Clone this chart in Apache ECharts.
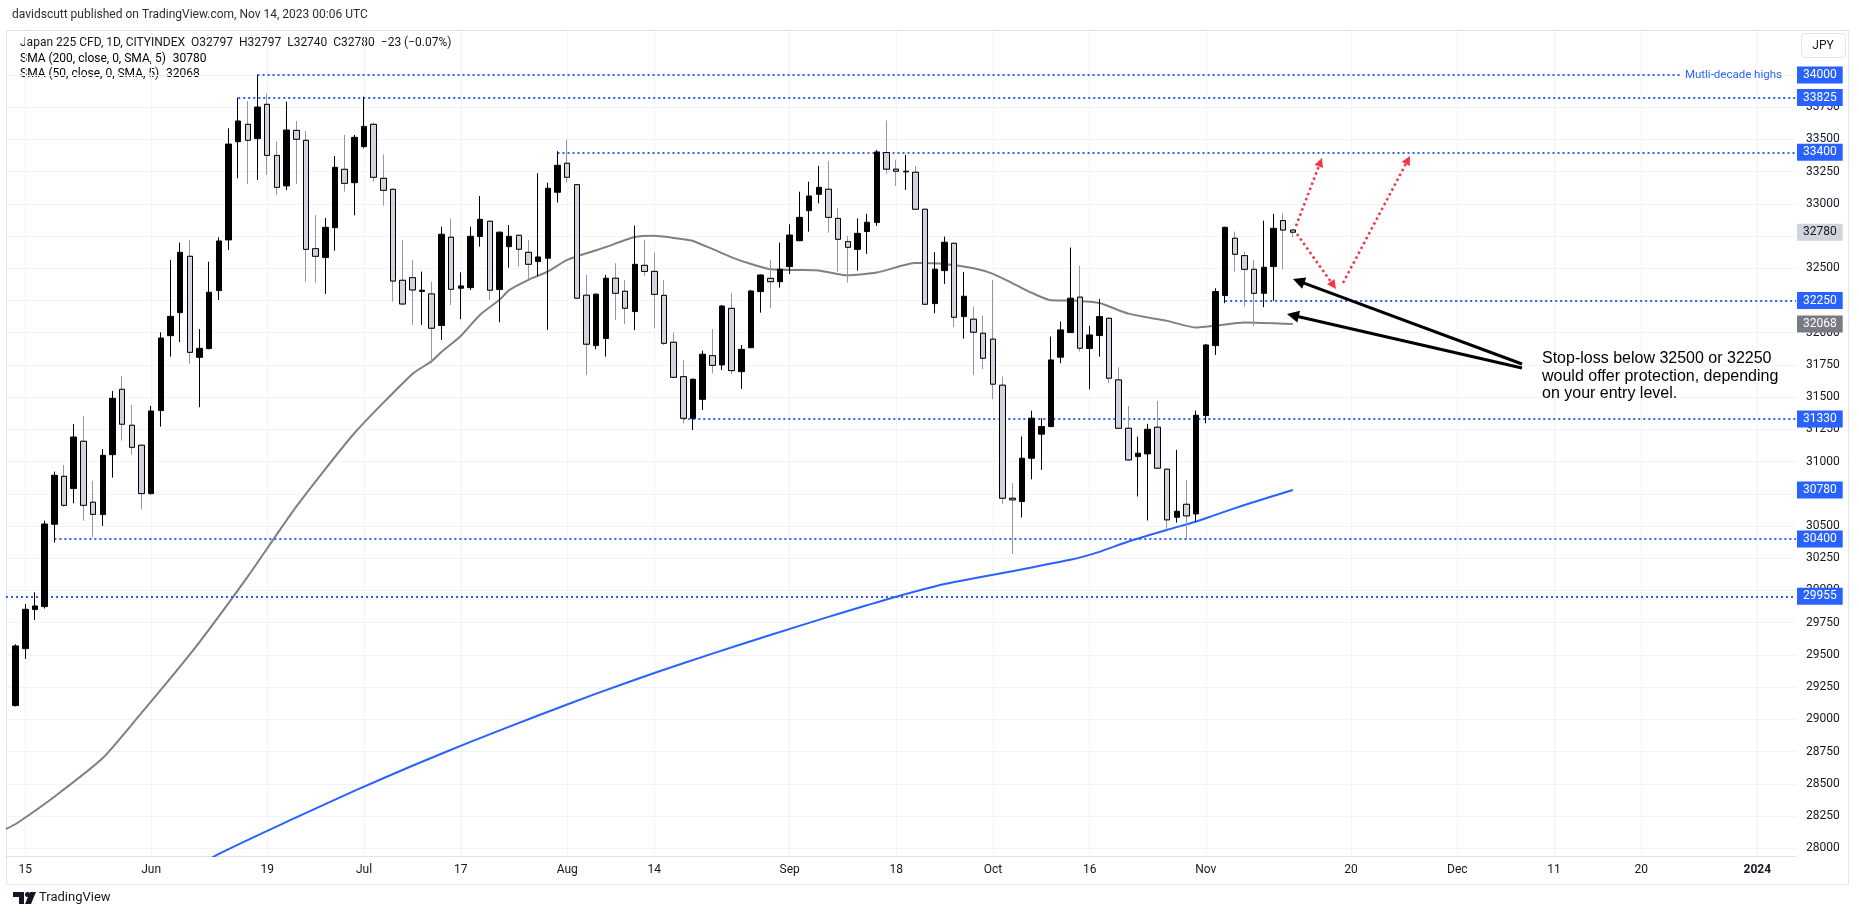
<!DOCTYPE html>
<html>
<head>
<meta charset="utf-8">
<script src="https://cdn.jsdelivr.net/npm/echarts@6/dist/echarts.min.js"></script>
<style>html,body{margin:0;padding:0;background:#fff;}#c{width:1859px;height:921px;}</style>
</head>
<body>
<div id="c"></div>
<script>
// ---------------- DATA ----------------
const opens = [29107,29549,29852,29875,30514,30886,30791,31158,30685,30589,
31054,31561,31282,31127,30752,31396,31977,32156,32593,31809,
31877,32327,32720,33482,33617,33506,33772,33376,33139,33570,
33493,32652,32583,32815,33268,33164,33444,33617,33198,33113,
32407,32427,32320,32301,32056,32741,32345,32350,32746,32865,
32335,32668,32756,32624,32552,32578,33090,33315,33149,32291,
31900,31955,32423,32322,32164,32523,32476,32290,31926,31659,
31336,31483,31822,31750,32189,31698,31884,32319,32422,32396,
32513,32714,32947,33074,33113,32887,32707,32647,32785,32855,
33398,33269,33248,33245,32958,32226,32482,32694,32125,32105,
31996,31950,31593,30716,30690,31026,31213,31272,31810,32001,
32276,31877,31978,32112,31634,31259,31039,31060,31267,30941,
30568,30669,30594,31357,31900,32288,32733,32598,32492,32306,
32513,32870,32797];
const closes = [29570,29854,29880,30516,30894,30661,31191,30661,30591,31049,
31491,31290,31111,30752,31393,31959,32127,32624,31848,31879,
32314,32712,33464,33643,33493,33751,33376,33128,33573,33501,
32647,32593,32818,33283,33159,33516,33601,33206,33105,32401,
32223,32332,32330,32035,32764,32337,32363,32748,32880,32330,
32780,32748,32648,32531,32588,33121,33299,33206,32268,31911,
32299,32423,32306,32190,32531,32476,32298,31918,31654,31336,
31639,31833,31747,32207,31706,31871,32324,32448,32396,32492,
32758,32895,33061,33128,32895,32725,32663,32771,32857,33403,
33269,33253,33253,32958,32221,32493,32702,32120,32283,32004,
31802,31601,30716,30703,31026,31337,31272,31789,32022,32268,
31880,31983,32125,31647,31259,31013,31065,31251,30949,30548,
30615,30579,31360,31905,32319,32818,32609,32492,32306,32508,
32810,32797,32780];
const lows = [29100,29469,29772,29860,30372,30650,30677,30542,30413,30501,
30876,31163,31054,30630,30745,31272,31815,31928,31758,31422,
31871,32254,32642,33198,33154,33185,33224,33069,33107,33154,
32396,32389,32301,32637,33095,32911,33431,33172,32986,32241,
32215,32060,32061,31763,31944,32216,32105,32332,32668,32254,
32081,32505,32513,32415,32436,32022,33010,33165,32260,31673,
31872,31815,32099,32068,32021,32440,32034,31905,31650,31297,
31245,31401,31685,31711,31680,31564,31880,32156,32189,32350,
32456,32710,32784,33004,32776,32474,32388,32482,32612,32829,
33232,33139,33108,32955,32215,32151,32379,32043,31955,31673,
31717,31484,30672,30284,30566,30863,30936,31267,31763,31998,
31854,31561,31815,31608,31255,31010,30729,30543,30945,30475,
30527,30393,30535,31298,31828,32229,32474,32203,32053,32198,
32247,32492,32740];
const highs = [29583,29896,29986,30542,30922,30974,31292,31354,30850,31098,
31548,31665,31440,31135,31432,32003,32565,32699,32720,32029,
32551,32740,33586,33824,33798,34000,33857,33482,33793,33643,
33565,32913,32890,33371,33534,33534,33832,33630,33384,33120,
32720,32564,32474,32397,32823,32886,32469,32823,33061,32870,
32785,32836,32760,32720,33237,33165,33408,33496,33155,32449,
32305,32449,32539,32410,32831,32720,32621,32409,32001,31788,
31645,31861,32029,32215,32306,31905,32332,32452,32564,32699,
32841,33094,33172,33294,33332,32965,32750,32887,32922,33419,
33646,33341,33380,33294,32962,32625,32746,32698,32472,32203,
32131,32410,31660,30833,31195,31394,31337,31970,32087,32661,
32521,32053,32262,32115,31732,31432,31194,31293,31471,30945,
31091,30858,31396,31913,32345,32822,32785,32629,32565,32870,
32922,32927,32797];

// SMA readings (category index -> value)
const sma50Bars = [0,1,5,10,14,17,20,25,30,36,42,44,45,47,49,51,52,54,56,58,61,62,65,67,70,71,73,75,77,79,82,84,87,90,94,97,100,102,104,106,108,110,113,116,120,123,125,128,133];
const sma50Vals = [28150,28188,28400,28700,29050,29320,29600,30110,30650,31220,31680,31780,31850,31975,32140,32255,32330,32410,32475,32565,32640,32665,32742,32753,32725,32712,32650,32585,32533,32492,32487,32483,32445,32467,32540,32533,32500,32457,32385,32310,32252,32250,32230,32148,32092,32040,32055,32080,32068];
const sma200Bars = [15,22,30,36,42,48,55,61,67,73,79,85,91,97,104,110,113,116,120,123,125,128,133];
const sma200Vals = [27650,27956,28240,28445,28640,28825,29030,29200,29360,29510,29655,29795,29930,30050,30150,30238,30300,30380,30470,30535,30587,30663,30780];

// horizontal levels
const levelValues = [34000, 33825, 33400, 32250, 31330, 30400, 29955];
const levelStartBars = [26, 24, 57, 126, 70, 5, 0];

// x tick labels
const tickDates = ['2023-05-15','2023-06-01','2023-06-19','2023-07-03','2023-07-17','2023-08-01','2023-08-14','2023-09-01','2023-09-18','2023-10-02','2023-10-16','2023-11-01','2023-11-20','2023-12-01','2023-12-11','2023-12-20','2024-01-01'];
const tickLabels = ['15','Jun','19','Jul','17','Aug','14','Sep','18','Oct','16','Nov','20','Dec','11','20','2024'];
// y tick labels
const yTicks = [28000,28250,28500,28750,29000,29250,29500,29750,30000,30250,30500,30750,31000,31250,31500,31750,32000,32250,32500,32750,33000,33250,33500,33750,34000];

const lastClose = 32780, sma200Last = 30780, sma50Last = 32068;

// ---------------- CATEGORIES ----------------
function ymd(d){return d.toISOString().slice(0,10);}
const categories = ['2023-05-11'];
let d = new Date(Date.UTC(2023,4,12));
while (ymd(d) <= '2023-11-14') { const w = d.getUTCDay(); if (w !== 0 && w !== 6) categories.push(ymd(d)); d.setUTCDate(d.getUTCDate()+1); }
d = new Date(Date.UTC(2023,10,15));
while (ymd(d) <= '2024-01-05') { categories.push(ymd(d)); d.setUTCDate(d.getUTCDate()+1); }
const N = categories.length;
const lastIdx = N - 1;
const tickMap = new Map(tickDates.map((t,i)=>[t,tickLabels[i]]));

// ---------------- BUILD SERIES DATA ----------------
const empty = ['-','-','-','-'];
const candleData = [], downBodies = [];
for (let i = 0; i < N; i++) {
  const k = i - 1;
  if (k >= 0 && k < opens.length) {
    candleData.push([opens[k], closes[k], lows[k], highs[k]]);
    if (closes[k] < opens[k]) downBodies.push([opens[k], closes[k], closes[k], opens[k]]);
    else downBodies.push(empty);
  } else { candleData.push(empty); downBodies.push(empty); }
}
function sparse(bars, vals){ const a = new Array(N).fill(null); bars.forEach((b,i)=>{a[b]=vals[i];}); return a; }
const sma50Data = sparse(sma50Bars, sma50Vals);
const sma200Data = sparse(sma200Bars, sma200Vals);

const BLUE = '#2962ff';
function boxLabel(v, bg, fg){ return {show:true, position:'end', formatter:String(v), backgroundColor:bg, color:fg, padding:[3,6,2,6], fontSize:12, fontFamily:'Roboto', distance:1}; }
const dotted = {color:BLUE, width:2, type:[2,3]};
const hidden = {color:'rgba(0,0,0,0)', width:1, type:'solid'};
const mlData = [];
levelValues.forEach((v,i)=>{
  if (v === 34000) {
    mlData.push([{coord:[categories[levelStartBars[i]], v], lineStyle:dotted,
      label:{show:true, position:'end', formatter:'Mutli-decade highs', color:BLUE, fontSize:11.5, fontFamily:'Roboto', distance:5}},
      {coord:[categories[173], v]}]);
    mlData.push([{coord:[categories[183], v], lineStyle:hidden, label:boxLabel(v, BLUE, '#fff')}, {coord:[categories[lastIdx], v]}]);
  } else {
    mlData.push([{coord:[categories[levelStartBars[i]], v], lineStyle:dotted, label:boxLabel(v, BLUE, '#fff')}, {coord:[categories[lastIdx], v]}]);
  }
});
mlData.push([{coord:[categories[183], sma200Last], lineStyle:hidden, label:boxLabel(sma200Last, BLUE, '#fff')}, {coord:[categories[lastIdx], sma200Last]}]);
mlData.push([{coord:[categories[183], sma50Last], lineStyle:hidden, label:boxLabel(sma50Last, '#787b86', '#fff')}, {coord:[categories[lastIdx], sma50Last]}]);
mlData.push([{coord:[categories[183], lastClose], lineStyle:hidden, label:boxLabel(lastClose, '#d1d4dc', '#131722')}, {coord:[categories[lastIdx], lastClose]}]);

// ---------------- ANNOTATIONS ----------------
function arrow(x1,y1,x2,y2,color,width,dash,head){
  const dx=x2-x1, dy=y2-y1, L=Math.hypot(dx,dy), ux=dx/L, uy=dy/L, nx=-uy, ny=ux;
  const hw=head*0.5, bx=x2-ux*head, by=y2-uy*head;
  return [
    {type:'line', z:100, shape:{x1:x1,y1:y1,x2:bx+ux*1,y2:by+uy*1}, style:{stroke:color, lineWidth:width, lineDash:dash}},
    {type:'polygon', z:100, shape:{points:[[x2,y2],[bx+nx*hw,by+ny*hw],[bx-nx*hw,by-ny*hw]]}, style:{fill:color}}
  ];
}
const RED = '#f23645';
const txt = {fontFamily:'Roboto', fontSize:12, fill:'#131722'};
const graphics = [
  {type:'rect', z:-1, shape:{x:6.5,y:30.5,width:1842,height:854}, style:{fill:'none', stroke:'#e0e3eb', lineWidth:1}},
  {type:'text', x:12, y:15, style:Object.assign({}, txt, {text:'davidscutt published on TradingView.com, Nov 14, 2023 00:06 UTC', verticalAlign:'middle', fill:'#2a2e39'})},
  {type:'text', x:20, y:43, style:Object.assign({}, txt, {text:'Japan 225 CFD, 1D, CITYINDEX  O32797  H32797  L32740  C32780  \u221223 (\u22120.07%)', verticalAlign:'middle'})},
  {type:'text', x:20, y:59, style:{text:'{a|SMA (200, close, 0, SMA, 5)}  {b|30780}', verticalAlign:'middle', rich:{a:{fontFamily:'Roboto',fontSize:12,color:'#131722'}, b:{fontFamily:'Roboto',fontSize:12,color:BLUE}}}},
  {type:'text', x:20, y:74, style:{text:'{a|SMA (50, close, 0, SMA, 5)}  {b|32068}', verticalAlign:'middle', rich:{a:{fontFamily:'Roboto',fontSize:12,color:'#131722'}, b:{fontFamily:'Roboto',fontSize:12,color:'#787b86'}}}},
  {type:'rect', shape:{x:1801.5,y:33.5,width:44,height:24,r:4}, style:{fill:'#fff', stroke:'#e0e3eb', lineWidth:1}},
  {type:'text', x:1823, y:46, style:Object.assign({}, txt, {text:'JPY', align:'center', verticalAlign:'middle'})},
  {type:'text', z:100, x:1542, y:350, style:{text:'Stop-loss below 32500 or 32250\nwould offer protection, depending\non your entry level.', fontFamily:'Liberation Sans', fontSize:16, lineHeight:17.5, fill:'#000', verticalAlign:'top'}},
  // TradingView logo
  {type:'polygon', shape:{points:[[13,892],[24,892],[24,904],[19,904],[19,897],[13,897]]}, style:{fill:'#131722'}},
  {type:'circle', shape:{cx:27.5,cy:894.5,r:2.5}, style:{fill:'#131722'}},
  {type:'polygon', shape:{points:[[30,892],[36,892],[31,904],[25,904]]}, style:{fill:'#131722'}},
  {type:'text', x:39, y:898, style:{text:'TradingView', fontFamily:'Roboto', fontSize:13, fill:'#131722', verticalAlign:'middle'}}
]
.concat(arrow(1296,226,1322,158,RED,2.5,[2.5,3],9))
.concat(arrow(1297,234,1336,289,RED,2.5,[2.5,3],9))
.concat(arrow(1343,283,1410,156,RED,2.5,[2.5,3],9))
.concat(arrow(1522,364,1293,279,'#000',3,null,12))
.concat(arrow(1522,368,1287,314,'#000',3,null,12));

// ---------------- CHART ----------------
const chart = echarts.init(document.getElementById('c'));
const isTick = (i, v) => tickMap.has(v);
chart.setOption({
  animation:false,
  backgroundColor:'#fff',
  grid:{left:6, right:63, top:31, bottom:65},
  xAxis:{type:'category', data:categories, boundaryGap:false,
    axisLine:{lineStyle:{color:'#e0e3eb'}}, axisTick:{show:false},
    axisLabel:{interval:isTick, color:'#131722', fontSize:12, fontFamily:'Roboto', margin:8,
      formatter:(v)=>{ const t = tickMap.get(v) || ''; return t === '2024' ? '{b|2024}' : t; },
      rich:{b:{fontWeight:'bold', fontSize:12, fontFamily:'Roboto', color:'#131722'}}},
    splitLine:{show:true, interval:isTick, lineStyle:{color:'#f0f3fa', width:1}}},
  yAxis:{type:'value', position:'right', min:27940, max:34341,
    axisLine:{show:false}, axisTick:{show:false, customValues:yTicks},
    axisLabel:{customValues:yTicks, color:'#131722', fontSize:12, fontFamily:'Roboto', margin:10, formatter:(v)=>String(v)},
    splitLine:{show:true, lineStyle:{color:'#f0f3fa', width:1}}},
  series:[
    {name:'SMA200', type:'line', data:sma200Data, connectNulls:true, showSymbol:false, smooth:0.2, z:2,
      lineStyle:{color:BLUE, width:2}, silent:true},
    {name:'SMA50', type:'line', data:sma50Data, connectNulls:true, showSymbol:false, smooth:0.2, z:2,
      lineStyle:{color:'#808080', width:2}, silent:true},
    {name:'candles', type:'candlestick', data:candleData, barWidth:6, z:5,
      itemStyle:{color:'#000', color0:'#d1d4dc', borderColor:'#000', borderColor0:'#9598a1', borderWidth:1}},
    {name:'downBodies', type:'candlestick', data:downBodies, barWidth:6, z:6,
      itemStyle:{color:'#000', color0:'#d1d4dc', borderColor:'#000', borderColor0:'#000', borderWidth:1}},
    {name:'levels', type:'line', data:[], z:10,
      markLine:{silent:true, symbol:['none','none'], animation:false, data:mlData}}
  ],
  graphic:graphics
});
</script>
</body>
</html>
